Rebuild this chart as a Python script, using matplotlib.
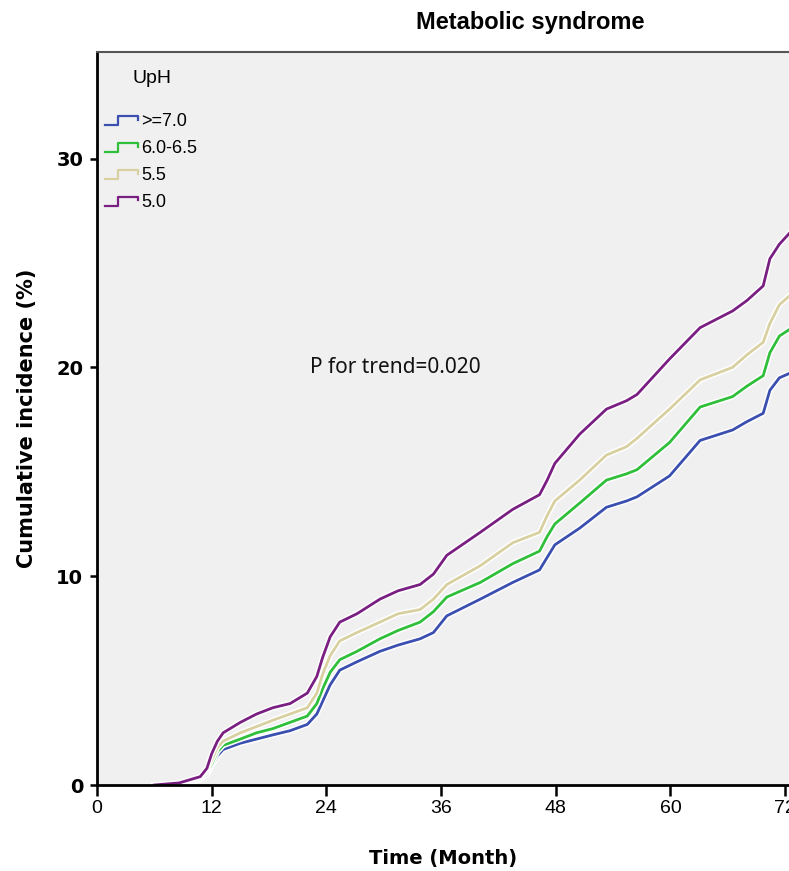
import numpy as np
import matplotlib
matplotlib.use("Agg")
import matplotlib.pyplot as plt
import matplotlib.patheffects as pe
from matplotlib.legend_handler import HandlerBase
from matplotlib.lines import Line2D

# cumulative incidence curves
months = [6, 8.6, 9.7, 10.8, 11.5, 12, 12.6, 13.2, 15, 16.7, 18.4, 20.2, 22, 23, 23.6,
          24.4, 25.4, 27.2, 29.6, 31.5, 33.8, 35.2, 36.6, 40.1, 43.5, 46.3, 47.1, 47.9,
          50.5, 53.3, 55.4, 56.5, 59.9, 63.1, 66.5, 68, 69.7, 70.4, 71.4, 72.4]

uph_70 = [0, 0.02, 0.1, 0.25, 0.5, 0.9, 1.4, 1.7, 2.0, 2.2, 2.4, 2.6, 2.9, 3.4, 4.0,
          4.8, 5.5, 5.9, 6.4, 6.7, 7.0, 7.3, 8.1, 8.9, 9.7, 10.3, 10.9, 11.5,
          12.3, 13.3, 13.6, 13.8, 14.8, 16.5, 17.0, 17.4, 17.8, 18.9, 19.5, 19.7]
uph_60 = [0, 0.03, 0.15, 0.3, 0.6, 1.0, 1.6, 1.9, 2.2, 2.5, 2.7, 3.0, 3.3, 3.9, 4.6,
          5.4, 6.0, 6.4, 7.0, 7.4, 7.8, 8.3, 9.0, 9.7, 10.6, 11.2, 11.9, 12.5,
          13.5, 14.6, 14.9, 15.1, 16.4, 18.1, 18.6, 19.1, 19.6, 20.7, 21.5, 21.8]
uph_55 = [0, 0.05, 0.2, 0.35, 0.7, 1.2, 1.8, 2.1, 2.5, 2.8, 3.1, 3.4, 3.7, 4.4, 5.3,
          6.2, 6.9, 7.3, 7.8, 8.2, 8.4, 8.9, 9.6, 10.5, 11.6, 12.1, 12.9, 13.6,
          14.6, 15.8, 16.2, 16.6, 18.0, 19.4, 20.0, 20.6, 21.2, 22.1, 23.0, 23.4]
uph_50 = [0, 0.1, 0.25, 0.4, 0.8, 1.5, 2.1, 2.5, 3.0, 3.4, 3.7, 3.9, 4.4, 5.2, 6.1,
          7.1, 7.8, 8.2, 8.9, 9.3, 9.6, 10.1, 11.0, 12.1, 13.2, 13.9, 14.6, 15.4,
          16.8, 18.0, 18.4, 18.7, 20.4, 21.9, 22.7, 23.2, 23.9, 25.2, 25.9, 26.4]

group_labels = [">=7.0", "6.0-6.5", "5.5", "5.0"]
group_colors = ["#3a4fb0", "#2fbf3a", "#d8d0a0", "#7a1f82"]

x_ticks = [0, 12, 24, 36, 48, 60, 72]
y_ticks = [0, 10, 20, 30]


class StepHandler(HandlerBase):
    # little step glyph like the SPSS legend
    def create_artists(self, legend, orig_handle, xdescent, ydescent, width, height, fontsize, trans):
        xs = np.array([0, 0.38, 0.38, 0.95, 0.95]) * width - xdescent
        ys = np.array([0.1, 0.1, 0.8, 0.8, 0.5]) * height - ydescent
        line = Line2D(xs, ys, color=orig_handle.get_color(), lw=1.6)
        line.set_transform(trans)
        return [line]


fig = plt.figure(figsize=(7.89, 8.71), dpi=100)
ax = fig.add_axes([97 / 789, 86 / 871, 692 / 789, 733 / 871])
ax.set_facecolor("#f0f0f0")

series = [uph_70, uph_60, uph_55, uph_50]
handles = []
for vals, lab, col in zip(series, group_labels, group_colors):
    ln, = ax.plot(months, vals, color=col, lw=2.0, label=lab, solid_joinstyle="round",
                  path_effects=[pe.Stroke(linewidth=4.2, foreground="white"), pe.Normal()])
    handles.append(ln)

ax.set_xlim(0, 72.4)
ax.set_ylim(0, 35.1)
ax.set_xticks(x_ticks)
ax.set_yticks(y_ticks)
ax.set_xticklabels([str(t) for t in x_ticks], fontsize=14, family="Liberation Sans")
ax.set_yticklabels([str(t) for t in y_ticks], fontsize=14, fontweight="bold", family="DejaVu Sans")
ax.tick_params(axis="both", direction="out", width=1.8, color="black")
ax.tick_params(axis="x", length=8, pad=3)
ax.tick_params(axis="y", length=5, pad=5)

for side in ["left", "bottom"]:
    ax.spines[side].set_linewidth(2.0)
    ax.spines[side].set_color("black")
ax.spines["top"].set_linewidth(1.5)
ax.spines["top"].set_color("#555555")
ax.spines["right"].set_visible(False)

ax.set_xlabel("Time (Month)", fontsize=14, fontweight="bold", family="DejaVu Sans", labelpad=23)
ax.set_ylabel("Cumulative incidence (%)", fontsize=15, fontweight="bold", family="DejaVu Sans", labelpad=14)

fig.text(530 / 789, 1 - 22 / 871, "Metabolic syndrome", ha="center", va="center",
         fontsize=17, fontweight="bold", family="Liberation Sans")

ax.text(298 / 692 * 72.4, 20.0, "P for trend=0.020", ha="center", va="center",
        fontsize=15, family="Noto Sans", color="#111111")

# legend title sits well above the entries, like SPSS
ax.text(36 / 692, (785 - 78) / 733, "UpH", transform=ax.transAxes, ha="left", va="center",
        fontsize=14, family="Liberation Sans")
leg = ax.legend(handles=handles, labels=group_labels, loc="upper left",
                bbox_to_anchor=(8 / 692, (785 - 113) / 733), frameon=False, borderpad=0,
                borderaxespad=0, handler_map={Line2D: StepHandler()}, handlelength=1.9,
                handletextpad=0.1, labelspacing=0.55,
                prop={"family": "Liberation Sans", "size": 13})

fig.savefig("out.png", dpi=100, facecolor="white")
